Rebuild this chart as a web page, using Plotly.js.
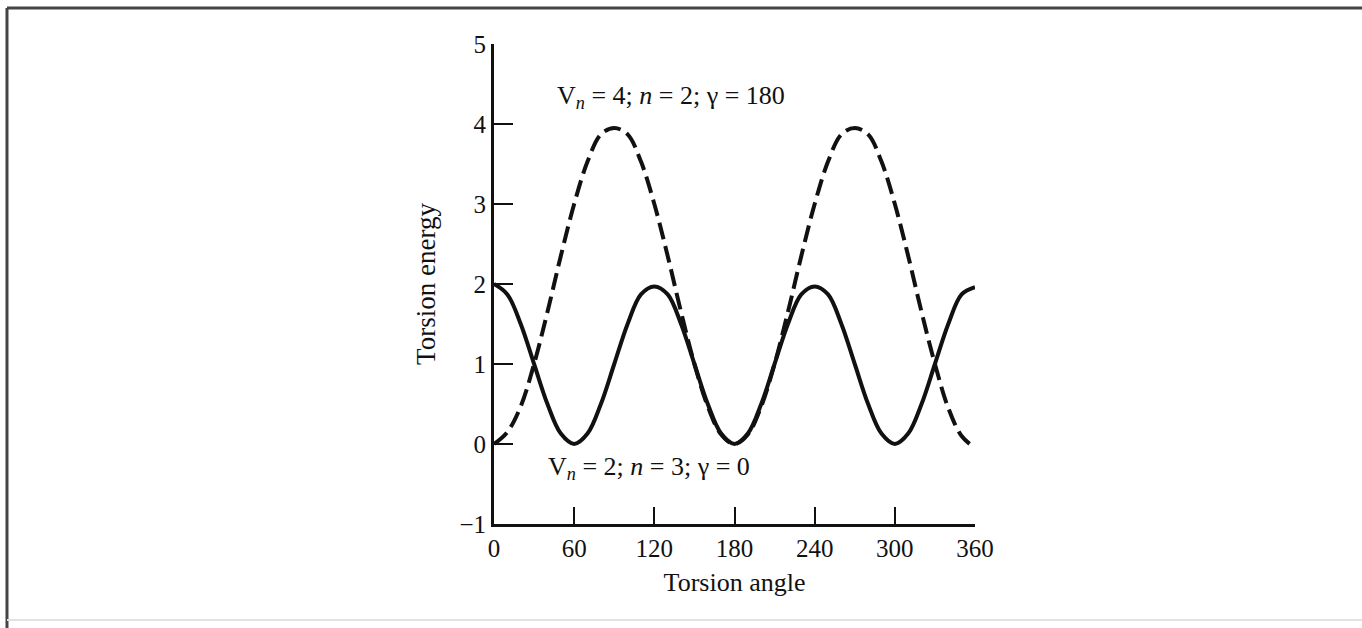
<!DOCTYPE html>
<html>
<head>
<meta charset="utf-8">
<script src="https://cdn.plot.ly/plotly-3.0.1.min.js"></script>
<style>html,body{margin:0;padding:0;background:#fff;}#chart{width:1362px;height:628px;}</style>
</head>
<body>
<div id="chart"></div>
<script>
// Torsion angle (degrees)
const angles = [0,10,20,30,40,50,60,70,80,90,100,110,120,130,140,150,160,170,180,
                190,200,210,220,230,240,250,260,270,280,290,300,310,320,330,340,350,360];
// Solid curve: Vn = 2; n = 3; gamma = 0
const energyN3 = [2.00,1.87,1.50,1.00,0.50,0.13,0.00,0.13,0.50,1.00,1.50,1.87,1.97,1.87,1.50,1.00,0.50,0.13,0.00,
                  0.13,0.50,1.00,1.50,1.87,1.97,1.87,1.50,1.00,0.50,0.13,0.00,0.13,0.50,1.00,1.50,1.87,1.96];
// Dashed curve: Vn = 4; n = 2; gamma = 180
const energyN2 = [0.00,0.15,0.47,1.00,1.65,2.35,3.00,3.53,3.87,3.95,3.87,3.53,3.00,2.35,1.65,1.00,0.47,0.12,0.00,
                  0.12,0.47,1.00,1.65,2.35,3.00,3.53,3.87,3.95,3.87,3.53,3.00,2.35,1.65,1.00,0.45,0.10,-0.05];
const xTicks = [0,60,120,180,240,300,360];
const yTicks = [-1,0,1,2,3,4,5];
const labelN2 = "V<sub><i>n</i></sub> = 4; <i>n</i> = 2; γ = 180";
const labelN3 = "V<sub><i>n</i></sub> = 2; <i>n</i> = 3; γ = 0";

const serif = "Liberation Serif, Times New Roman, serif";

const traces = [
  {x: angles, y: energyN2, mode: 'lines', line: {color: '#111', width: 4, dash: '17px,7px', shape: 'spline'}, hoverinfo: 'skip'},
  {x: angles, y: energyN3, mode: 'lines', line: {color: '#111', width: 4, shape: 'spline'}, hoverinfo: 'skip'}
];

const layout = {
  width: 1362, height: 628,
  margin: {l: 494, r: 387, t: 44, b: 104},
  paper_bgcolor: '#fff', plot_bgcolor: '#fff',
  showlegend: false,
  font: {family: serif, size: 25, color: '#111'},
  xaxis: {
    range: [0, 360], tickvals: xTicks, ticktext: xTicks.map(String),
    ticks: 'inside', ticklen: 17, tickwidth: 2, tickcolor: '#111',
    showline: true, linewidth: 3, linecolor: '#111', showgrid: false, zeroline: false,
    tickfont: {family: serif, size: 25, color: '#111'},
    title: {text: 'Torsion angle', font: {family: serif, size: 26, color: '#111'}, standoff: 12}
  },
  yaxis: {
    range: [-1, 5], tickvals: yTicks,
    ticks: 'inside', ticklen: 19, tickwidth: 2, tickcolor: '#111',
    showline: true, linewidth: 3, linecolor: '#111', showgrid: false, zeroline: false,
    tickfont: {family: serif, size: 25, color: '#111'},
    title: {text: 'Torsion energy', font: {family: serif, size: 27, color: '#111'}, standoff: 16}
  },
  annotations: [
    {x: 46.0, y: 4.34, xref: 'x', yref: 'y', text: labelN2, showarrow: false, xanchor: 'left', yanchor: 'middle',
     font: {family: serif, size: 26, color: '#111'}},
    {x: 39.2, y: -0.3, xref: 'x', yref: 'y', text: labelN3, showarrow: false, xanchor: 'left', yanchor: 'middle',
     font: {family: serif, size: 26, color: '#111'}}
  ],
  shapes: [
    {type: 'line', xref: 'paper', yref: 'paper', x0: -1.0125, x1: 1.81, y0: 1.075, y1: 1.075, line: {color: '#444', width: 3}},
    {type: 'line', xref: 'paper', yref: 'paper', x0: -1.0125, x1: -1.0125, y0: 1.075, y1: -0.22, line: {color: '#444', width: 3}},
    {type: 'line', xref: 'paper', yref: 'paper', x0: -1.0125, x1: 1.81, y0: -0.2, y1: -0.2, line: {color: '#e2e2e2', width: 2}}
  ]
};

Plotly.newPlot('chart', traces, layout, {staticPlot: true, displayModeBar: false});
</script>
</body>
</html>
